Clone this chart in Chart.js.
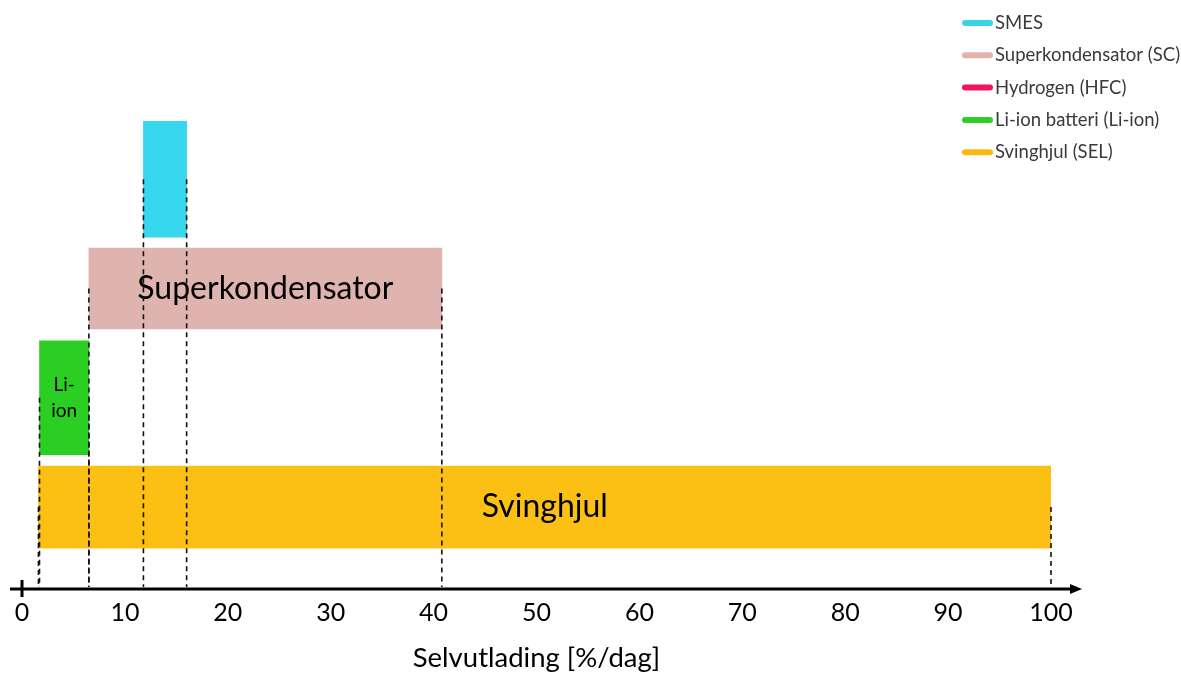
<!DOCTYPE html>
<html>
<head>
<meta charset="utf-8">
<script src="https://cdn.jsdelivr.net/npm/chart.js@4.4.1/dist/chart.umd.min.js"></script>
<style>
  html, body { margin: 0; padding: 0; background: #ffffff; }
  #c { display: block; }
</style>
</head>
<body>
<canvas id="c" width="1181" height="678"></canvas>
<script>
// Energy storage technologies and their self-discharge range [%/day]
const storageTypes = ['SMES', 'Superkondensator (SC)', 'Hydrogen (HFC)', 'Li-ion batteri (Li-ion)', 'Svinghjul (SEL)'];
const dischargeFrom = [11.8, 6.5, null, 1.7, 1.6];
const dischargeTo   = [16.0, 40.8, null, 6.5, 100];
const barLabels     = ['', 'Superkondensator', '', 'Li-\nion', 'Svinghjul'];
const xTickValues   = [0, 10, 20, 30, 40, 50, 60, 70, 80, 90, 100];

// Styling
const barColors    = ['#37d7ee', '#dfb4ae', '#f2145c', '#2bcf24', '#fcbf13'];
const legendColors = ['#3ad3ec', '#e3b2ac', '#f2145c', '#2ecf2b', '#fbb910'];
const barThickness = [116, 81, 0, 114, 82];
const labelFonts   = ['32px Lato', '32px Lato', '32px Lato', '19px Lato', '32px Lato'];

// one row per technology that has a range
let row = 0;
const datasets = storageTypes.map((name, i) => {
  const has = dischargeFrom[i] !== null;
  if (has) row++;
  return {
    label: name,
    data: has ? [{ x: [dischargeFrom[i], dischargeTo[i]], y: row }] : [],
    backgroundColor: barColors[i],
    barThickness: barThickness[i] || 1,
    grouped: false,
    borderWidth: 0,
    borderSkipped: false
  };
});

const overlay = {
  id: 'overlay',
  afterDatasetsDraw(chart) {
    const { ctx, chartArea, scales: { x } } = chart;
    const axisY = chartArea.bottom;
    ctx.save();

    // labels inside the bars
    chart.data.datasets.forEach((ds, i) => {
      const meta = chart.getDatasetMeta(i);
      if (!meta.data.length || !barLabels[i]) return;
      const p = meta.data[0].getProps(['x', 'base', 'y'], true);
      const lines = barLabels[i].split('\n');
      ctx.font = labelFonts[i];
      ctx.fillStyle = '#000000';
      ctx.textAlign = 'center';
      ctx.textBaseline = 'middle';
      const lh = lines.length > 1 ? 26 : 0;
      lines.forEach((t, k) => {
        ctx.fillText(t, (p.x + p.base) / 2, p.y + (k - (lines.length - 1) / 2) * lh);
      });
    });

    // dashed guides from each bar end down to the axis
    ctx.strokeStyle = '#111111';
    ctx.lineWidth = 1.6;
    ctx.setLineDash([5, 4]);
    chart.data.datasets.forEach((ds, i) => {
      const meta = chart.getDatasetMeta(i);
      if (!meta.data.length) return;
      const p = meta.data[0].getProps(['x', 'base', 'y'], true);
      [p.base, p.x].forEach(px => {
        ctx.beginPath();
        ctx.moveTo(px, p.y);
        ctx.lineTo(px, axisY - 2);
        ctx.stroke();
      });
    });
    ctx.setLineDash([]);

    // x axis with arrow and origin cross
    ctx.strokeStyle = '#000000';
    ctx.fillStyle = '#000000';
    ctx.lineWidth = 3;
    ctx.beginPath();
    ctx.moveTo(10, axisY);
    ctx.lineTo(1073, axisY);
    ctx.stroke();
    ctx.beginPath();
    ctx.moveTo(1070, axisY - 5);
    ctx.lineTo(1082, axisY);
    ctx.lineTo(1070, axisY + 5);
    ctx.closePath();
    ctx.fill();
    const x0 = x.getPixelForValue(0);
    ctx.beginPath();
    ctx.moveTo(x0, axisY - 9);
    ctx.lineTo(x0, axisY + 8);
    ctx.stroke();

    // legend
    ctx.lineCap = 'round';
    ctx.lineWidth = 6;
    ctx.font = '18.5px Lato';
    ctx.textAlign = 'left';
    ctx.textBaseline = 'middle';
    chart.data.datasets.forEach((ds, i) => {
      const ly = 23 + i * 32.3;
      ctx.strokeStyle = legendColors[i];
      ctx.beginPath();
      ctx.moveTo(965, ly);
      ctx.lineTo(990, ly);
      ctx.stroke();
      ctx.fillStyle = '#3a3a3a';
      ctx.fillText(ds.label, 995, ly);
    });
    ctx.restore();
  }
};

new Chart(document.getElementById('c'), {
  type: 'bar',
  data: { datasets },
  plugins: [overlay],
  options: {
    indexAxis: 'y',
    responsive: false,
    animation: false,
    devicePixelRatio: 1,
    layout: { padding: { left: 22, right: 130, top: 70, bottom: 3 } },
    plugins: { legend: { display: false }, tooltip: { enabled: false } },
    scales: {
      x: {
        type: 'linear',
        min: 0,
        max: 100,
        afterBuildTicks: (s) => { s.ticks = xTickValues.map(v => ({ value: v })); },
        grid: { display: false, drawTicks: false },
        border: { display: false },
        ticks: {
          font: { family: 'Lato', size: 25 },
          color: '#000000',
          padding: 9,
          maxRotation: 0,
          autoSkip: false
        },
        title: {
          display: true,
          text: 'Selvutlading [%/dag]',
          font: { family: 'Lato', size: 27.5 },
          color: '#000000',
          padding: { top: 5, bottom: 0 }
        }
      },
      y: {
        type: 'linear',
        reverse: true,
        offset: false,
        min: 0,
        max: 4.75,
        display: false
      }
    }
  }
});
</script>
</body>
</html>
